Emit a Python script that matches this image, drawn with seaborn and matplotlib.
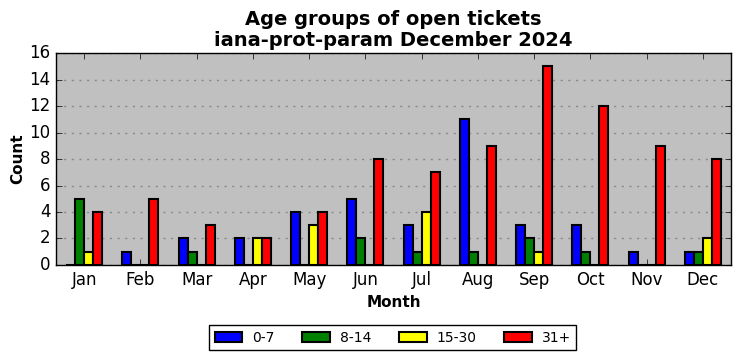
import pandas as pd
import numpy as np
import seaborn as sns
import matplotlib.pyplot as plt

months = ['Jan', 'Feb', 'Mar', 'Apr', 'May', 'Jun', 'Jul', 'Aug', 'Sep', 'Oct', 'Nov', 'Dec']
age_groups = ['0-7', '8-14', '15-30', '31+']
counts_0_7 = [0, 1, 2, 2, 4, 5, 3, 11, 3, 3, 1, 1]
counts_8_14 = [5, 0, 1, 0, 0, 2, 1, 1, 2, 1, 0, 1]
counts_15_30 = [1, 0, 0, 2, 3, 0, 4, 0, 1, 0, 0, 2]
counts_31 = [4, 5, 3, 2, 4, 8, 7, 9, 15, 12, 9, 8]
colors = ['blue', 'green', 'yellow', 'red']

# long table for seaborn
df = pd.DataFrame({
    'Month': months * 4,
    'Age': np.repeat(age_groups, len(months)),
    'Count': counts_0_7 + counts_8_14 + counts_15_30 + counts_31,
})

plt.style.use('classic')
fig = plt.figure(figsize=(7.41, 3.61), dpi=100, facecolor='white')
ax = fig.add_axes([0.0756, 0.266, 0.911, 0.587])
ax.set_facecolor('#c0c0c0')

sns.barplot(data=df, x='Month', y='Count', hue='Age', order=months, hue_order=age_groups,
            palette=colors, width=0.64, dodge=True, edgecolor='black', linewidth=1.5,
            saturation=1, ax=ax, zorder=3)

ax.set_xlim(-0.5, 11.5)
ax.set_ylim(0, 16)
ax.set_yticks(range(0, 17, 2))
ax.yaxis.grid(True, linestyle=(0, (1.5, 4)), color='#888888', linewidth=1, zorder=0)
ax.set_axisbelow(True)
ax.tick_params(labelsize=12)
ax.set_xlabel('Month', fontsize=11, fontweight='bold')
ax.set_ylabel('Count', fontsize=11, fontweight='bold', labelpad=3)
ax.set_title('Age groups of open tickets\niana-prot-param December 2024', fontsize=14,
             fontweight='bold', linespacing=1.15)

handles, labels = ax.get_legend_handles_labels()
if ax.legend_:
    ax.legend_.remove()
leg = fig.legend(handles, labels, loc='center', bbox_to_anchor=(0.53, 0.064), ncol=4,
                 fontsize=10, frameon=True, fancybox=False, handlelength=2.0,
                 handletextpad=0.7, columnspacing=2.0, borderpad=0.4)
leg.get_frame().set_edgecolor('black')

fig.savefig('out.png', dpi=100, facecolor='white')
